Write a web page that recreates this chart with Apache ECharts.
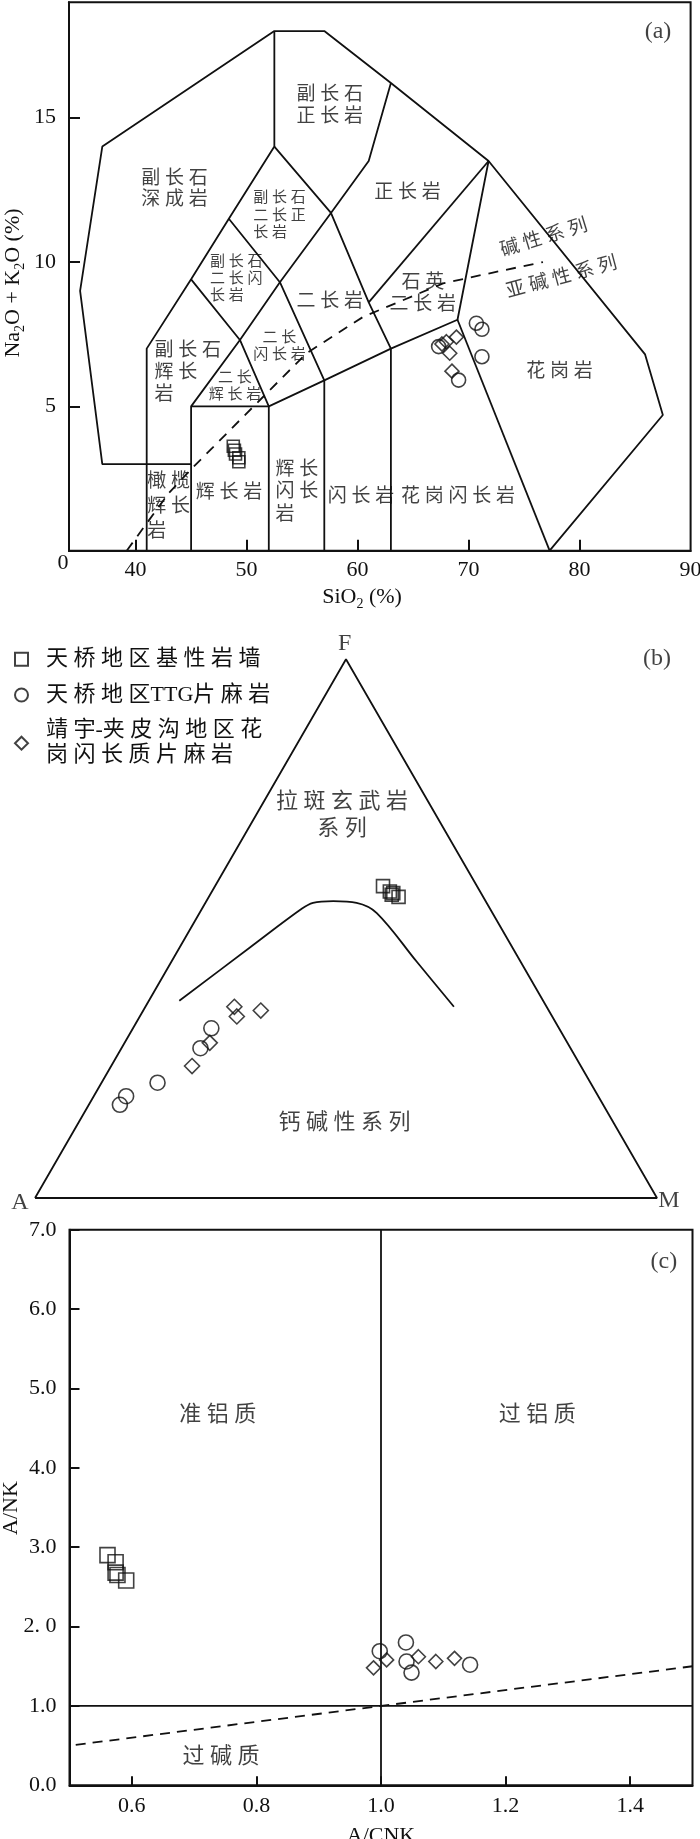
<!DOCTYPE html>
<html>
<head>
<meta charset="utf-8">
<title>TAS / AFM / A-CNK</title>
<script src="https://cdn.jsdelivr.net/npm/echarts@6/dist/echarts.min.js"></script>
<style>
  html, body { margin: 0; padding: 0; background: #fff; }
  #chart { width: 700px; height: 1839px; }
</style>
</head>
<body>
<div id="chart"></div>
<script>
// 系列名（图例）
var seriesNames = ['天桥地区基性岩墙', '天桥地区TTG片麻岩', '靖宇-夹皮沟地区花岗闪长质片麻岩'];

// (a) TAS 图  [SiO2 %, Na2O+K2O %]
var tasDyke = [[48.8, 3.62], [48.9, 3.48], [49.0, 3.35], [49.3, 3.22], [49.3, 3.08]];
var tasTTG  = [[70.7, 7.88], [71.2, 7.67], [71.2, 6.72], [67.3, 7.07], [69.1, 5.91]];
var tasGd   = [[68.9, 7.40], [68.0, 7.24], [68.3, 6.84], [68.5, 6.22], [67.6, 7.16]];
var tasBoundaries = [
  [[45, 3], [37, 3], [35, 9], [37, 14], [52.5, 18], [57, 18], [63, 16.2], [71.8, 13.5], [85.9, 6.8], [87.5, 4.7], [77.3, 0]],
  [[41, 0], [41, 7], [45, 9.4], [48.4, 11.5], [52.5, 14], [52.5, 18]],
  [[45, 0], [45, 5], [49.4, 7.3], [53, 9.3], [57.6, 11.7], [61, 13.5], [63, 16.2]],
  [[45, 9.4], [49.4, 7.3], [52, 5], [52, 0]],
  [[45, 5], [52, 5], [57, 5.9], [63, 7], [69, 8], [71.8, 13.5]],
  [[48.4, 11.5], [53, 9.3], [57, 5.9], [57, 0]],
  [[52.5, 14], [57.6, 11.7], [61, 8.6], [63, 7], [63, 0]],
  [[61, 8.6], [71.8, 13.5]],
  [[69, 8], [77.3, 0]]
];
// 碱性/亚碱性分界线
var tasAlkLine = [[39.2, 0], [43, 2.0], [45.2, 2.9], [49.7, 4.64], [51.8, 5.45], [55.4, 6.84], [60.5, 8.1], [67.7, 9.26], [71.9, 9.61], [76.7, 10.0]];
var tasXTicks = [40, 50, 60, 70, 80];
var tasXLabels = [40, 50, 60, 70, 80, 90];
var tasYTicks = [5, 10, 15];

// (b) AFM 图  [A, F, M] %
var afmDyke = [[15.1, 57.9, 27.0], [14.5, 56.9, 28.6], [14.1, 56.6, 29.3], [13.6, 55.9, 30.5], [14.5, 56.3, 29.2]];
var afmTTG  = [[55.9, 31.5, 12.6], [59.5, 27.8, 12.7], [69.6, 21.4, 9.0], [75.9, 18.9, 5.2], [77.7, 17.3, 5.0]];
var afmGd   = [[50.2, 35.5, 14.3], [50.7, 33.7, 15.6], [46.3, 34.8, 18.9], [57.5, 28.8, 13.7], [62.5, 24.5, 13.0]];
var afmCurve = [[58.5, 36.6, 4.9], [42.2, 46.5, 11.3], [30.6, 53.5, 15.9], [27.9, 54.8, 17.3], [24.5, 55.1, 20.4],
                [20.9, 54.8, 24.3], [18.6, 52.9, 28.5], [16.7, 43.9, 39.4], [14.9, 35.5, 49.6]];
var afmFrame = [[100, 0, 0], [0, 100, 0], [0, 0, 100], [100, 0, 0]];

// (c) A/CNK - A/NK 图
var cnkDyke = [[0.561, 2.90], [0.574, 2.81], [0.574, 2.68], [0.577, 2.65], [0.591, 2.58]];
var cnkTTG  = [[0.998, 1.69], [1.040, 1.80], [1.041, 1.56], [1.049, 1.42], [1.143, 1.52]];
var cnkGd   = [[0.988, 1.48], [1.009, 1.58], [1.060, 1.62], [1.088, 1.56], [1.118, 1.60]];
var cnkVLine = [[1.0, 0], [1.0, 7]];
var cnkHLine = [[0.5, 1.0], [1.5, 1.0]];
var cnkDash = [[0.51, 0.51], [1.5, 1.5]];
var cnkXTicks = [0.6, 0.8, 1.0, 1.2, 1.4];
var cnkYLabels = ['0.0', '1.0', '2. 0', '3.0', '4.0', '5.0', '6.0', '7.0'];

// 区域文字  [x, y, 文字, 字号, 对齐, 旋转, 行高]
var tasLabels = [
  [57.5, 15.4, '副长石\n正长岩', 19, 'center', 0, 22],
  [43.5, 12.5, '副长石\n深成岩', 19, 'center', 0, 21],
  [50.6, 11.6, '副长石\n二长正\n长岩', 15, 'left', 0, 17.5],
  [46.7, 9.4, '副长石\n二长闪\n长岩', 15, 'left', 0, 16.8],
  [57.5, 8.62, '二长岩', 19, 'center', 0, 22],
  [65.87, 8.88, '石英\n二长岩', 19, 'center', 0, 21.7],
  [64.5, 12.38, '正长岩', 19, 'center', 0, 22],
  [76.8, 10.82, '碱性系列', 19, 'center', 17, 22],
  [78.4, 9.45, '亚碱性系列', 19, 'center', 15, 22],
  [78.2, 6.2, '花岗岩', 19, 'center', 0, 22],
  [69.05, 1.87, '花岗闪长岩', 19, 'center', 0, 22],
  [60.3, 1.87, '闪长岩', 19, 'center', 0, 22],
  [48.41, 1.99, '辉长岩', 19, 'center', 0, 22],
  [52.6, 2.02, '辉长\n闪长\n岩', 19, 'left', 0, 22.5],
  [41.05, 1.51, '橄榄\n辉长\n岩', 19, 'left', 0, 25],
  [41.7, 6.15, '副长石\n辉长\n岩', 19, 'left', 0, 21.7],
  [48.95, 5.68, '二长\n辉长岩', 15, 'center', 0, 16.7],
  [52.96, 7.07, '二长\n闪长岩', 15, 'center', 0, 16.7],
  [87.06, 17.97, '(a)', 24, 'center', 0, 24]
];
var afmLabels = [
  [0.4936, 0.6146, '拉斑玄武岩\n系列', 22, 'center', 0, 27],
  [0.4974, 0.1198, '钙碱性系列', 22, 'center', 0, 26],
  [0.4977, 0.891, 'F', 24, 'center', 0, 24],
  [-0.0241, -0.0069, 'A', 24, 'center', 0, 24],
  [1.0191, -0.0039, 'M', 24, 'center', 0, 24],
  [1.0, 0.8662, '(b)', 24, 'center', 0, 24]
];
var cnkLabels = [
  [0.738, 4.66, '准铝质', 22, 'center', 0, 24],
  [1.251, 4.66, '过铝质', 22, 'center', 0, 24],
  [0.743, 0.354, '过碱质', 22, 'center', 0, 24],
  [1.454, 6.6, '(c)', 24, 'center', 0, 24]
];

var FONT = "'Liberation Serif', 'Noto Sans CJK SC', serif";
var INK = '#111';

// 汉字之间加空格，模仿原图的字距
function spaced(s) {
  return s.replace(/([\u3400-\u9fff])(?=[\u3400-\u9fff])/g, '$1 ');
}
// 三角图坐标 -> 直角坐标
function tern(p) {
  return [p[2] / 100 + p[1] / 200, p[1] / 100 * Math.sqrt(3) / 2];
}

function lineSeries(pts, gi, dash, smooth) {
  return {
    type: 'line', xAxisIndex: gi, yAxisIndex: gi, data: pts, symbol: 'none', silent: true,
    clip: false, smooth: smooth || false, animation: false, z: 2,
    lineStyle: {color: INK, width: 1.8, type: dash || 'solid'}
  };
}
function markerSeries(name, pts, gi, symbol, size) {
  return {
    type: 'scatter', name: name, xAxisIndex: gi, yAxisIndex: gi, data: pts,
    symbol: symbol, symbolSize: size, silent: true, clip: false, animation: false, z: 5,
    itemStyle: {color: 'rgba(0,0,0,0)', borderColor: INK, borderWidth: 1.6}
  };
}
function labelSeries(list, gi) {
  return {
    type: 'scatter', xAxisIndex: gi, yAxisIndex: gi, silent: true, clip: false, animation: false,
    symbolSize: 1, itemStyle: {color: 'rgba(0,0,0,0)'}, z: 4,
    data: list.map(function (t) {
      return {
        name: spaced(t[2]), value: [t[0], t[1]],
        label: {
          show: true, position: 'inside', formatter: '{b}', color: INK, fontFamily: FONT,
          fontSize: t[3], lineHeight: t[6], align: t[4], verticalAlign: 'middle', rotate: t[5]
        }
      };
    })
  };
}

var axisFont = {fontSize: 22, fontFamily: FONT, color: INK};
var richSub = {
  n: {fontSize: 22, fontFamily: FONT, fill: INK},
  s: {fontSize: 14, fontFamily: FONT, fill: INK, padding: [14, 0, 0, 0]}
};

var series = [];
tasBoundaries.forEach(function (b) { series.push(lineSeries(b, 0)); });
series.push(lineSeries(tasAlkLine, 0, [10, 8]));
series.push(markerSeries(seriesNames[0], tasDyke, 0, 'rect', 12));
series.push(markerSeries(seriesNames[1], tasTTG, 0, 'circle', 14));
series.push(markerSeries(seriesNames[2], tasGd, 0, 'diamond', 14));
series.push(labelSeries(tasLabels, 0));

series.push(lineSeries(afmFrame.map(tern), 1));
series.push(lineSeries(afmCurve.map(tern), 1, null, 0.35));
series.push(markerSeries(seriesNames[0], afmDyke.map(tern), 1, 'rect', 13));
series.push(markerSeries(seriesNames[1], afmTTG.map(tern), 1, 'circle', 15));
series.push(markerSeries(seriesNames[2], afmGd.map(tern), 1, 'diamond', 15));
series.push(labelSeries(afmLabels, 1));

series.push(lineSeries(cnkVLine, 2));
series.push(lineSeries(cnkHLine, 2));
series.push(lineSeries(cnkDash, 2, [10, 7]));
series.push(markerSeries(seriesNames[0], cnkDyke, 2, 'rect', 15));
series.push(markerSeries(seriesNames[1], cnkTTG, 2, 'circle', 15));
series.push(markerSeries(seriesNames[2], cnkGd, 2, 'diamond', 14));
series.push(labelSeries(cnkLabels, 2));

var chart = echarts.init(document.getElementById('chart'), null, {renderer: 'canvas'});
var option = {
  backgroundColor: '#fff',
  animation: false,
  grid: [
    {left: 69, top: 2.2, width: 621.6, height: 548.5, show: true, borderColor: INK, borderWidth: 2, outerBoundsMode: 'none'},
    {left: 35, top: 659.3, width: 622, height: 538.7, outerBoundsMode: 'none'},
    {left: 69.5, top: 1229.8, width: 623, height: 555.5, show: true, borderColor: INK, borderWidth: 2, outerBoundsMode: 'none'}
  ],
  xAxis: [
    {
      gridIndex: 0, type: 'value', min: 34, max: 90,
      axisLine: {show: true, onZero: false, lineStyle: {color: INK, width: 2}},
      axisTick: {show: true, inside: true, length: 11, customValues: tasXTicks, lineStyle: {color: INK, width: 2}},
      axisLabel: Object.assign({customValues: tasXLabels, margin: 9}, axisFont),
      splitLine: {show: false}
    },
    {gridIndex: 1, type: 'value', min: 0, max: 1, show: false},
    {
      gridIndex: 2, type: 'value', min: 0.5, max: 1.5,
      axisLine: {show: true, onZero: false, lineStyle: {color: INK, width: 2}},
      axisTick: {show: true, inside: true, length: 9, customValues: cnkXTicks, lineStyle: {color: INK, width: 2}},
      axisLabel: Object.assign({customValues: cnkXTicks, margin: 10, formatter: function (v) { return v.toFixed(1); }}, axisFont),
      splitLine: {show: false}
    }
  ],
  yAxis: [
    {
      gridIndex: 0, type: 'value', min: 0, max: 19,
      axisLine: {show: true, onZero: false, lineStyle: {color: INK, width: 2}},
      axisTick: {show: true, inside: true, length: 11, customValues: tasYTicks, lineStyle: {color: INK, width: 2}},
      axisLabel: Object.assign({customValues: tasYTicks, margin: 13}, axisFont),
      splitLine: {show: false}
    },
    {gridIndex: 1, type: 'value', min: 0, max: Math.sqrt(3) / 2, show: false},
    {
      gridIndex: 2, type: 'value', min: 0, max: 7, interval: 1,
      axisLine: {show: true, onZero: false, lineStyle: {color: INK, width: 2}},
      axisTick: {show: true, inside: true, length: 10, lineStyle: {color: INK, width: 2}},
      axisLabel: Object.assign({margin: 13, formatter: function (v) { return cnkYLabels[Math.round(v)]; }}, axisFont),
      splitLine: {show: false}
    }
  ],
  legend: {
    data: seriesNames, orient: 'vertical', left: 14, top: 646.8, padding: 0, itemGap: 10.7,
    itemWidth: 13, itemHeight: 13, selectedMode: false,
    textStyle: {
      fontSize: 22, fontFamily: FONT, color: INK, lineHeight: 25,
      rich: {t: {fontSize: 22, fontFamily: FONT, color: INK, lineHeight: 25, padding: [0, 0, 0, 13]}}
    },
    formatter: function (n) {
      var txt = spaced(n === seriesNames[2] ? '靖宇-夹皮沟地区花\n岗闪长质片麻岩' : n);
      return txt.split('\n').map(function (l) { return '{t|' + l + '}'; }).join('\n');
    }
  },
  graphic: [
    {type: 'text', x: 13, y: 283, rotation: Math.PI / 2,
     style: {text: '{n|Na}{s|2}{n|O + K}{s|2}{n|O (%)}', rich: richSub, fill: INK, align: 'center', verticalAlign: 'middle'}},
    {type: 'text', x: 362, y: 597,
     style: {text: '{n|SiO}{s|2}{n| (%)}', rich: richSub, fill: INK, align: 'center', verticalAlign: 'middle'}},
    {type: 'text', x: 63, y: 563,
     style: {text: '0', fontSize: 22, fontFamily: FONT, fill: INK, align: 'center', verticalAlign: 'middle'}},
    {type: 'text', x: 11, y: 1508, rotation: Math.PI / 2,
     style: {text: 'A/NK', fontSize: 22, fontFamily: FONT, fill: INK, align: 'center', verticalAlign: 'middle'}},
    {type: 'text', x: 381, y: 1836,
     style: {text: 'A/CNK', fontSize: 22, fontFamily: FONT, fill: INK, align: 'center', verticalAlign: 'middle'}}
  ],
  series: series
};
chart.setOption(option);
</script>
</body>
</html>
